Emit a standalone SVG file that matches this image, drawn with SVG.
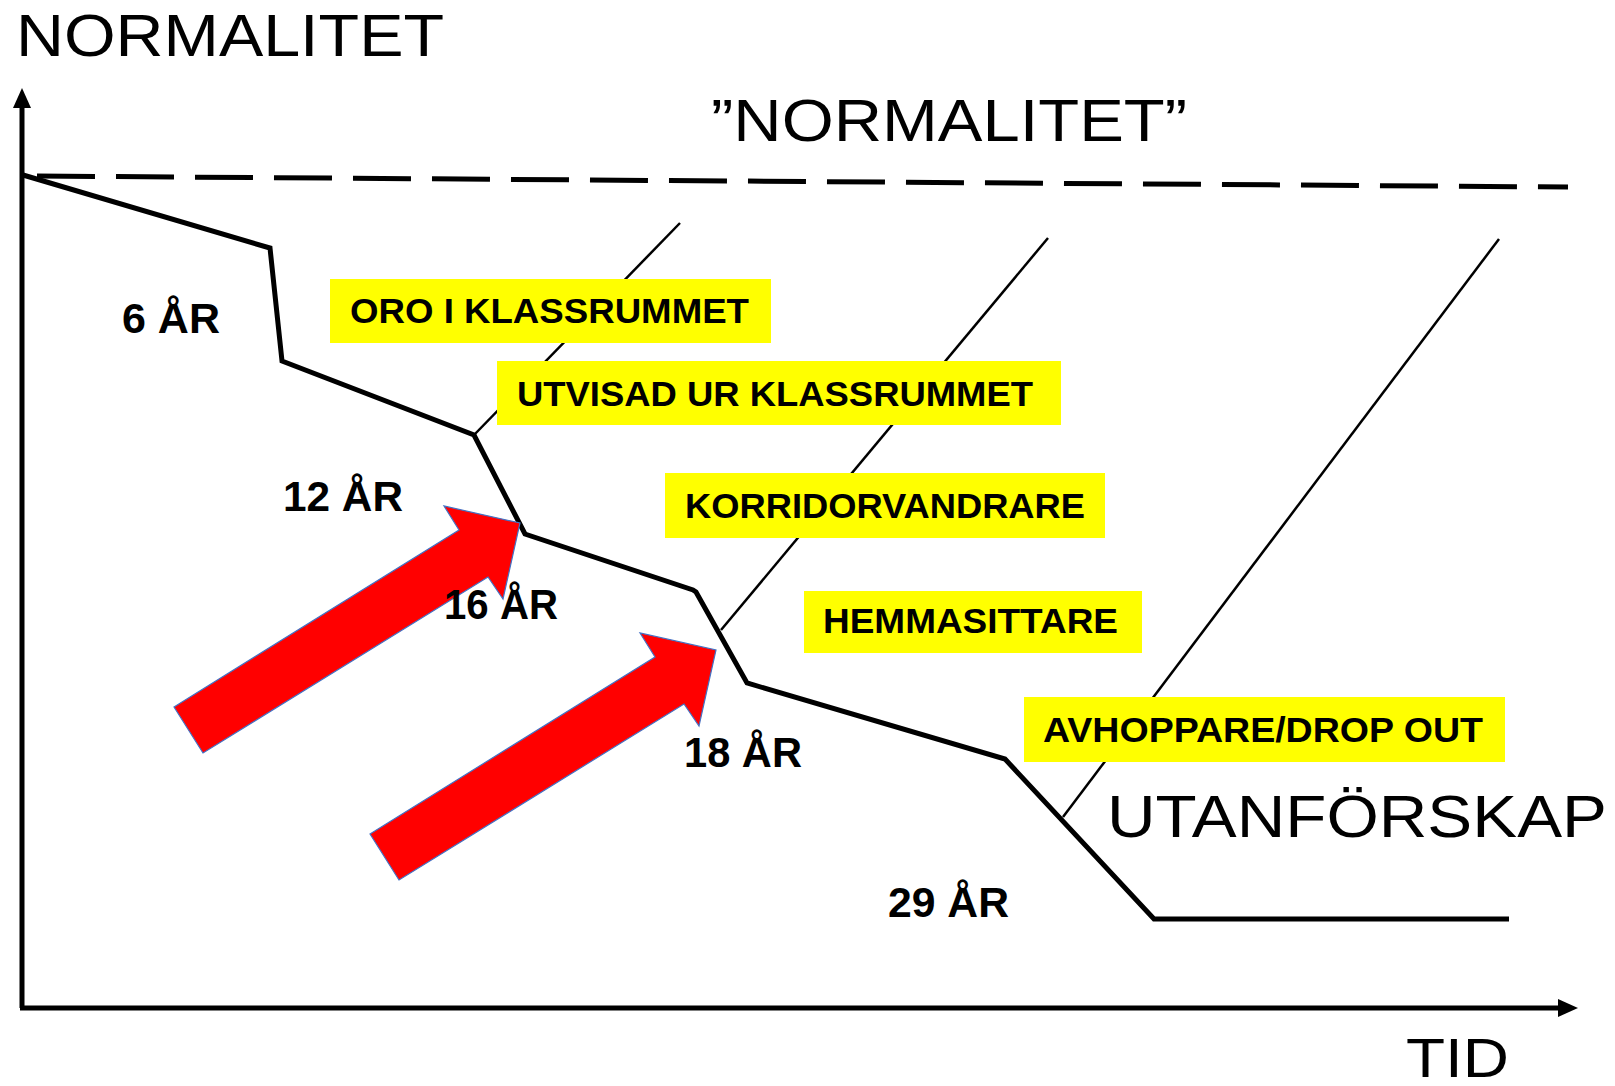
<svg xmlns="http://www.w3.org/2000/svg" width="1615" height="1086" viewBox="0 0 1615 1086">
<style>
  .t { font-family: "Liberation Sans", Arial, sans-serif; fill: #000; }
  .big { font-size: 59px; }
  .age { font-size: 42px; font-weight: bold; }
  .lbl { font-size: 35px; font-weight: bold; }
  .box { fill: #FFFF00; }
  .axis { stroke: #000; stroke-width: 5; fill: none; }
  .main { stroke: #000; stroke-width: 5; fill: none; stroke-linejoin: miter; }
  .thin { stroke: #000; stroke-width: 2.5; fill: none; }
  .dash { stroke: #000; stroke-width: 5; fill: none; stroke-dasharray: 58 21; }
  .arrow { fill: #FF0000; stroke: #4472C4; stroke-width: 1.2; }
</style>
<defs>
  <polygon id="redArrow" points="174,707 459,530 444,506 520,523 503,599 488,577 203,753"/>
</defs>
<rect width="1615" height="1086" fill="#fff"/>

<g id="axes">
  <line class="axis" x1="22" y1="1008" x2="22" y2="106"/>
  <path d="M22,88 L31,108 L13,108 Z" fill="#000"/>
  <line class="axis" x1="20" y1="1008" x2="1560" y2="1008"/>
  <path d="M1578,1008 L1558,999 L1558,1017 Z" fill="#000"/>
</g>

<g id="connectors">
  <line class="dash" x1="37" y1="176" x2="1568" y2="187"/>
  <polyline class="main" points="23,175 270,248 282,361 474,435 525,534 693,590 696,592 747,683 1005,759 1154,919 1509,919"/>
  <line class="thin" x1="474" y1="435" x2="680" y2="223"/>
  <line class="thin" x1="721" y1="630" x2="1048" y2="238"/>
  <line class="thin" x1="1063" y1="817" x2="1499" y2="239"/>
</g>

<g id="arrows">
  <use href="#redArrow" class="arrow"/>
  <use href="#redArrow" class="arrow" transform="translate(196,127)"/>
</g>

<g id="title-normalitet">
  <text class="t big" x="16" y="56" font-size="60" textLength="428" lengthAdjust="spacingAndGlyphs">NORMALITET</text>
</g>
<g id="label-normalitet-quoted">
  <text class="t big" x="711" y="141" textLength="476" lengthAdjust="spacingAndGlyphs">”NORMALITET”</text>
</g>
<g id="label-utanforskap">
  <text class="t big" x="1107" y="837" textLength="500" lengthAdjust="spacingAndGlyphs">UTANFÖRSKAP</text>
</g>
<g id="label-tid">
  <text class="t" x="1406" y="1077" font-size="56" textLength="103" lengthAdjust="spacingAndGlyphs">TID</text>
</g>

<g id="age-6"><text class="t age" x="122" y="333" textLength="98" lengthAdjust="spacingAndGlyphs">6 ÅR</text></g>
<g id="age-12"><text class="t age" x="283" y="511" textLength="120" lengthAdjust="spacingAndGlyphs">12 ÅR</text></g>
<g id="age-16"><text class="t age" x="444" y="619" textLength="114" lengthAdjust="spacingAndGlyphs">16 ÅR</text></g>
<g id="age-18"><text class="t age" x="684" y="767" textLength="118" lengthAdjust="spacingAndGlyphs">18 ÅR</text></g>
<g id="age-29"><text class="t age" x="888" y="917" textLength="121" lengthAdjust="spacingAndGlyphs">29 ÅR</text></g>

<g id="box-oro">
  <rect class="box" x="330" y="279" width="441" height="64"/>
  <text class="t lbl" x="350" y="323" textLength="399" lengthAdjust="spacingAndGlyphs">ORO I KLASSRUMMET</text>
</g>
<g id="box-utvisad">
  <rect class="box" x="497" y="361" width="564" height="64"/>
  <text class="t lbl" x="517" y="406" textLength="516" lengthAdjust="spacingAndGlyphs">UTVISAD UR KLASSRUMMET</text>
</g>
<g id="box-korridor">
  <rect class="box" x="665" y="473" width="440" height="65"/>
  <text class="t lbl" x="685" y="518" textLength="400" lengthAdjust="spacingAndGlyphs">KORRIDORVANDRARE</text>
</g>
<g id="box-hemma">
  <rect class="box" x="804" y="591" width="338" height="62"/>
  <text class="t lbl" x="823" y="633" textLength="295" lengthAdjust="spacingAndGlyphs">HEMMASITTARE</text>
</g>
<g id="box-avhoppare">
  <rect class="box" x="1024" y="697" width="481" height="65"/>
  <text class="t lbl" x="1043" y="742" textLength="440" lengthAdjust="spacingAndGlyphs">AVHOPPARE/DROP OUT</text>
</g>
</svg>
